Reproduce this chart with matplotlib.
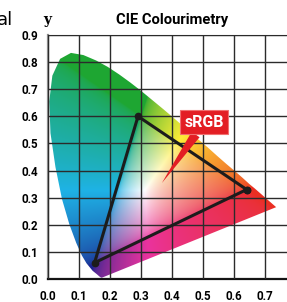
import numpy as np
import matplotlib.pyplot as plt
from matplotlib.patches import Polygon

plt.rcParams['font.family'] = ['Roboto', 'DejaVu Sans']

# outline of the horseshoe (spectral locus, 380 nm -> 700 nm)
locus_x = [0.174, 0.173, 0.171, 0.166, 0.157, 0.144, 0.124, 0.109, 0.091, 0.069,
           0.045, 0.024, 0.008, 0.004, 0.014, 0.039, 0.074, 0.114, 0.155, 0.193,
           0.230, 0.266, 0.302, 0.337, 0.373, 0.409, 0.444, 0.479, 0.513, 0.545,
           0.575, 0.603, 0.627, 0.648, 0.666, 0.680, 0.692, 0.708, 0.719, 0.726,
           0.730, 0.733, 0.735]
locus_y = [0.005, 0.005, 0.005, 0.009, 0.018, 0.030, 0.058, 0.087, 0.133, 0.201,
           0.295, 0.413, 0.538, 0.655, 0.750, 0.812, 0.834, 0.826, 0.806, 0.782,
           0.754, 0.724, 0.692, 0.659, 0.625, 0.590, 0.555, 0.520, 0.487, 0.454,
           0.424, 0.397, 0.373, 0.351, 0.334, 0.320, 0.308, 0.292, 0.281, 0.274,
           0.270, 0.267, 0.265]

# sRGB primaries (R, G, B)
srgb_x = [0.64, 0.29, 0.15]
srgb_y = [0.33, 0.60, 0.06]

xticks = [0.0, 0.1, 0.2, 0.3, 0.4, 0.5, 0.6, 0.7]
yticks = [0.0, 0.1, 0.2, 0.3, 0.4, 0.5, 0.6, 0.7, 0.8, 0.9]

# colour of each chromaticity point, rendered like a printed diagram
gx, gy = np.meshgrid(np.linspace(0, 0.8, 480), np.linspace(0.001, 0.9, 540))
xyz = np.stack([gx / gy, np.ones_like(gx), (1 - gx - gy) / gy], -1)
M = np.array([[3.2406, -1.5372, -0.4986],
              [-0.9689, 1.8758, 0.0415],
              [0.0557, -0.2040, 1.0570]])
rgb = np.clip(xyz @ M.T, 0, None)
rgb = rgb / rgb.max(-1, keepdims=True)
rgb = rgb ** 0.45
cmy = 1 - rgb
inks = np.array([[0.12, 0.70, 0.90], [0.92, 0.2, 0.62], [1.0, 0.93, 0.22]])
img = np.ones_like(rgb)
for k in range(3):
    img = img * (1 - cmy[..., k:k + 1] * (1 - inks[k]))

fig = plt.figure(figsize=(2.87, 3.02), dpi=100)
ax = fig.add_axes([48 / 287, 23 / 302, 239 / 287, 244 / 302])

im = ax.imshow(img, origin='lower', extent=(0, 0.8, 0.001, 0.9),
               aspect='auto', interpolation='bilinear', zorder=0)
shape = Polygon(np.column_stack([locus_x, locus_y]), closed=True,
                transform=ax.transData, fc='none', ec='none')
ax.add_patch(shape)
im.set_clip_path(shape)

ax.set_xlim(0, 0.77)
ax.set_ylim(0, 0.9)
ax.set_xticks(xticks)
ax.set_yticks(yticks)
ax.set_xticklabels([f'{v:.1f}' for v in xticks], fontweight='bold', fontsize=8.4)
ax.set_yticklabels([f'{v:.1f}' for v in yticks], fontweight='bold', fontsize=8.4)
ax.tick_params(length=0)
ax.tick_params(axis='x', pad=8)
ax.tick_params(axis='y', pad=7)

ax.set_axisbelow(False)
ax.grid(True, color='#2b2b2b', lw=1.0)
ax.spines['right'].set_visible(False)
ax.spines['top'].set_color('#777777')
ax.spines['left'].set_color('#8a8a8a')
ax.spines['left'].set_linewidth(1.6)
ax.spines['bottom'].set_color('#111111')
ax.spines['bottom'].set_linewidth(1.6)

ax.plot(srgb_x + srgb_x[:1], srgb_y + srgb_y[:1], color='#1c1c1c', lw=2.2,
        marker='o', ms=4.5, zorder=3)

ax.annotate('sRGB', xy=(0.367, 0.354), xytext=(0.503, 0.578),
            color='white', fontsize=11.5, fontweight='bold', ha='center',
            va='center', zorder=5,
            bbox=dict(boxstyle='square,pad=0.27', fc='#e31e24', ec='#f07070', lw=0.8),
            arrowprops=dict(arrowstyle='wedge,tail_width=0.6', fc='#e31e24',
                            ec='none', shrinkA=0, shrinkB=0))

fig.text(172 / 287, 1 - 20 / 302, 'CIE Colourimetry', ha='center', va='center',
         fontsize=10.6, fontweight='bold')
fig.text(47 / 287, 1 - 20 / 302, 'y', ha='center', va='center', fontsize=10,
         fontweight='bold', family='DejaVu Serif')
fig.text(-3 / 287, 1 - 25 / 302, 'al', ha='left', va='baseline', fontsize=13,
         family='DejaVu Sans')

fig.savefig('out.png', dpi=100)
